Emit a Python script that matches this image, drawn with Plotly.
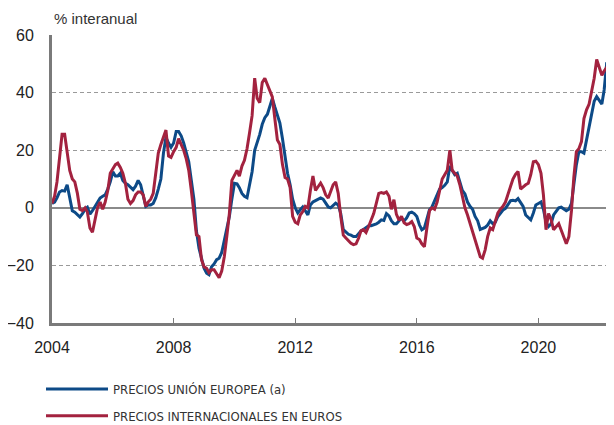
import plotly.graph_objects as go
import pandas as pd

# Monthly dates Jan 2004 .. Jun 2022
start_month = "2004-01-01"
n_months = 222

eu_prices = [
    1.5, 2, 3.5, 5.5, 6, 5.8, 8, 3, -1, -1.5, -2.5, -3.2,            # 2004
    -2, -0.5, 0.2, -2.2, -1, 0.5, 1.5, 3.4, 4, 4.5, 6.5, 9,          # 2005
    12.5, 11, 11, 12, 9.5, 8.5, 8, 7, 6.3, 7.5, 9.5, 8,              # 2006
    4.5, 0.5, 1, 1, 1.5, 3.5, 6.5, 10, 19, 24.5, 22.5, 21,           # 2007
    22.5, 26.5, 26.5, 25, 22.5, 19.5, 16, 9.5, 3, -8, -14, -17.5,    # 2008
    -21, -22.7, -23.2, -20.5, -19.5, -18, -17.5, -15.5, -11, -7.5, -3, 3,  # 2009
    8.5, 8.3, 7, 5, 4, 3.5, 8, 12.5, 20, 22.5, 25.5, 29,             # 2010
    31.3, 32.5, 35.5, 38, 35, 32.5, 29.4, 24, 17, 12, 8, 3,          # 2011
    0, -1.8, -0.7, 0.3, -1, -2.5, 1, 2, 2.5, 3, 3.4, 3,              # 2012
    1.5, 0.3, 0, 1, 1.6, 1, -2, -7.6, -8.5, -9.2, -9.5, -10,         # 2013
    -10, -9, -8, -7.5, -7, -6.2, -6.2, -6, -5.6, -5, -4.2, -4.4,     # 2014
    -2, -2.8, -4.5, -5.5, -5.5, -4.5, -3.6, -4.6, -3.5, -1.8, -1.5, -2,  # 2015
    -3, -5.9, -7.6, -7, -4, -0.7, 0.3, 2.4, 5, 6.5, 7, 7.8,          # 2016
    9, 14.5, 13, 11.5, 12, 9, 6, 4.8, 2, 0.5, -0.5, -3,              # 2017
    -4.5, -7.5, -7.2, -6.8, -6, -4.5, -5.5, -5, -3, -1.8, -0.8, -0.2,  # 2018
    1, 2.5, 2.6, 2.4, 3.2, 1.6, 0.5, -2.5, -3.5, -4.2, -1.8, 1,      # 2019
    1.5, 2, -0.5, -5, -6.5, -5.5, -2.5, -1, 0, 0.2, -0.3, -1,        # 2020
    -0.5, 1.5, 8, 15, 19.5, 19.5, 19, 23.5, 29, 33, 37, 38.6,        # 2021
    37.5, 36, 41, 50.5, 49.5, 47.5,                                  # 2022
]

intl_prices = [
    1.5, 4, 9, 17, 25.5, 25.5, 19, 13, 10, 9, 5, -0.5,               # 2004
    -1, 0, -1.5, -7, -8.5, -4.5, 0, 2, -0.5, 2, 6, 12,               # 2005
    13.5, 15, 15.5, 14, 12, 8.5, 3, 1.5, 2.5, 4.5, 5.5, 5.5,         # 2006
    4.5, 0.5, 2, 3, 5, 12, 19, 22, 24.5, 27, 18, 17.5,               # 2007
    19.5, 21, 24, 22, 20, 17, 13, 6, -3, -9.4, -10, -18,             # 2008
    -20.5, -21, -22.5, -21.5, -21.5, -23, -24.3, -22, -17, -10, -2, 9.5,  # 2009
    11, 13, 11, 14.5, 16.5, 20.5, 26, 32, 45, 38, 36.5, 43.5,        # 2010
    45, 42.5, 41, 38.5, 31, 23.5, 22, 15, 10.5, 10, 7, -3,           # 2011
    -5, -5.5, -2.5, -1.3, 0.5, 0, 6, 11, 6, 7.5, 8.6, 7,             # 2012
    4.5, 3.4, 5.5, 8, 9, 5, -3, -9.5, -10.5, -11.5, -12.3, -12.8,    # 2013
    -12.5, -10.5, -8, -7.6, -8.6, -6.5, -4.5, -2, 1.5, 5, 5.3, 5,    # 2014
    5.5, 4, -0.5, 2.8, -2.3, -4.3, -3, -5.2, -5.8, -5.5, -4.8, -6.5, # 2015
    -10.5, -11, -12.5, -13.5, -7, -1, 0, -0.5, 2, 5.5, 10, 11.5,     # 2016
    13, 20, 13, 12, 11, 8, 3.5, 0, -2.5, -5.5, -8, -11,              # 2017
    -14, -17, -17.5, -14.6, -10, -7, -7.6, -4.7, -1.8, -0.5, 0.5, 2, # 2018
    5, 7.5, 10, 11.6, 12.6, 6.5, 7.4, 8, 8.5, 11.5, 16, 16.2,        # 2019
    15, 12, 4.5, -7.6, -2, -4, -7.6, -6.6, -5.5, -7.8, -10, -12.5,   # 2020
    -10, -1, 10.5, 19.5, 20.5, 23, 31, 34, 36, 40, 45, 51.5,         # 2021
    48.5, 46, 47.5, 48.8, 48.5, 47.8,                                # 2022
]

series_names = ["PRECIOS UNIÓN EUROPEA (a)", "PRECIOS INTERNACIONALES EN EUROS"]
series_colors = ["#0d4a87", "#a3223f"]
y_ticks = [-40, -20, 0, 20, 40, 60]
y_title = "% interanual"

dates = pd.date_range(start_month, periods=n_months, freq="MS")

fig = go.Figure()
for i, (name, vals, col) in enumerate(zip(series_names, [eu_prices, intl_prices], series_colors)):
    fig.add_trace(go.Scatter(
        x=dates[:len(vals)], y=vals, mode="lines", name=name,
        line=dict(color=col, width=3), legendgroup=f"g{i}",
    ))

font_main = "Liberation Sans, Arial, Helvetica, sans-serif"
font_legend = "DejaVu Sans Condensed, Liberation Sans Narrow, sans-serif"

# the page body adds an 8px offset, so the figure is 8px smaller and margins are shifted
W, H = 606, 417
M_L, M_T, M_B = 44, 27, 102
plot_h = H - M_T - M_B

fig.update_layout(
    width=W, height=H,
    margin=dict(l=M_L, r=0, t=M_T, b=M_B, autoexpand=False),
    plot_bgcolor="white", paper_bgcolor="white",
    font=dict(family=font_main, size=15, color="#222"),
    showlegend=True,
    legend=dict(
        xref="container", yref="container",
        x=33 / W, y=1 - 366 / H, xanchor="left", yanchor="top",
        orientation="v", tracegroupgap=7, itemwidth=62,
        font=dict(family=font_legend, size=13, color="#333"),
        bgcolor="rgba(0,0,0,0)",
    ),
    annotations=[dict(
        text=y_title, xref="paper", yref="paper", x=0, y=1 + (M_T - 10) / plot_h,
        xanchor="left", yanchor="middle", showarrow=False,
        font=dict(family=font_main, size=15, color="#333"),
    )],
)

fig.update_xaxes(
    type="date", range=["2004-01-01", "2022-06-27"],
    tick0="2004-01-01", dtick="M48", tickformat="%Y",
    showgrid=False, showline=True, linecolor="#7a7a7a", linewidth=3,
    ticks="inside", ticklen=5, tickcolor="#7a7a7a", tickwidth=1,
    ticklabelstandoff=8,
    tickfont=dict(family=font_main, size=16, color="#222"),
)
fig.update_yaxes(
    range=[-40, 60], tickvals=y_ticks,
    showgrid=True, gridcolor="#9a9a9a", gridwidth=1, griddash="4px,3px",
    zeroline=True, zerolinecolor="#8a8a8a", zerolinewidth=2,
    showline=True, linecolor="#7a7a7a", linewidth=3,
    ticks="", ticklabelstandoff=12,
    tickfont=dict(family=font_main, size=16, color="#222"),
)

fig.write_html("out.html")
